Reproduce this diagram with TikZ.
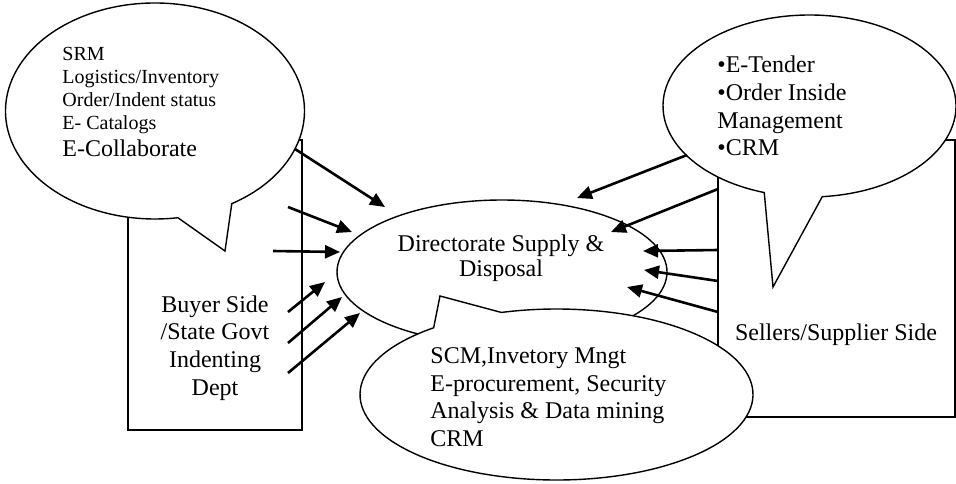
\documentclass[tikz,border=0pt]{standalone}
\usepackage{fontspec}
\setmainfont{Liberation Serif}
\usetikzlibrary{arrows.meta}

\tikzset{
  bubble/.style={draw, fill=white, line width=0.7pt},
  side/.style={draw, line width=0.9pt},
  feed/.style={-{Triangle[length=7.5pt,width=6.5pt]}, line width=1.3pt},
  txt/.style={inner sep=0pt, font=\fontsize{12}{13.8}\selectfont}
}

\begin{document}
\begin{tikzpicture}[x=0.5pt, y=0.5pt]
  \useasboundingbox (0,0) rectangle (956,483);

  % Buyer and seller boxes
  \draw[side] (128,53) rectangle (302,343);
  \draw[side] (718,66) rectangle (955,343);
  \node[txt, align=center] (buyer) at (215,135) {Buyer Side\\/State Govt\\Indenting\\Dept};
  \node[txt] (seller) at (836,148) {Sellers/Supplier Side};

  % Directorate in the middle
  \draw[bubble] (502,211) ellipse [x radius=165, y radius=72];
  \node[txt, align=center, font=\fontsize{12}{12.5}\selectfont] (dsd) at (501,224.5) {Directorate Supply \&\\Disposal};

  % Callout of the seller side
  \draw[bubble] (809.5,377) ++(-85:146.5 and 91)
    arc[start angle=-85, end angle=252, x radius=146.5, y radius=91] -- (773,196) -- cycle;
  \node[txt, align=left, anchor=west] (sellinfo) at (717,377) {•E-Tender\\•Order Inside\\Management\\•CRM};

  % Callout of the buyer side
  \draw[bubble] (155,372) ++(-59.1:149.5 and 108)
    arc[start angle=-59.1, end angle=278.8, x radius=149.5, y radius=108] -- (225,232) -- cycle;
  \node[txt, align=left, anchor=west, font=\fontsize{10}{11.5}\selectfont] (buyinfo) at (62,381.5)
    {SRM\\Logistics/Inventory\\Order/Indent status\\E- Catalogs\\[2pt]{\fontsize{12}{13.8}\selectfont E-Collaborate}};

  % Callout below the directorate
  \draw[bubble] (556.5,88.5) ++(128.7:196.5 and 85.5)
    arc[start angle=128.7, end angle=466.3, x radius=196.5, y radius=85.5] -- (440,187) -- cycle;
  \node[txt, align=left, anchor=west] (scm) at (430,86)
    {SCM,Invetory Mngt\\E-procurement, Security\\Analysis \& Data mining\\CRM};

  % Arrow ends, buyer side
  \coordinate (ls1) at (295,334); \coordinate (le1) at (385,276);
  \coordinate (ls2) at (288,276); \coordinate (le2) at (352,251);
  \coordinate (ls3) at (273,232); \coordinate (le3) at (340,231);
  \coordinate (ls4) at (288,171); \coordinate (le4) at (325,201);
  \coordinate (ls5) at (288,140); \coordinate (le5) at (342,186);
  \coordinate (ls6) at (288,110); \coordinate (le6) at (360,170);

  % Arrow ends, seller side
  \coordinate (rs1) at (687,328); \coordinate (re1) at (577,285);
  \coordinate (rs2) at (718,294); \coordinate (re2) at (611,251);
  \coordinate (rs3) at (718,233); \coordinate (re3) at (643,232);
  \coordinate (rs4) at (718,202); \coordinate (re4) at (644,213);
  \coordinate (rs5) at (718,171); \coordinate (re5) at (627,196);

  % Arrows into the directorate
  \draw[feed] (ls1) -- (le1);
  \draw[feed] (ls2) -- (le2);
  \draw[feed] (ls3) -- (le3);
  \draw[feed] (ls4) -- (le4);
  \draw[feed] (ls5) -- (le5);
  \draw[feed] (ls6) -- (le6);
  \draw[feed] (rs1) -- (re1);
  \draw[feed] (rs2) -- (re2);
  \draw[feed] (rs3) -- (re3);
  \draw[feed] (rs4) -- (re4);
  \draw[feed] (rs5) -- (re5);
\end{tikzpicture}
\end{document}
